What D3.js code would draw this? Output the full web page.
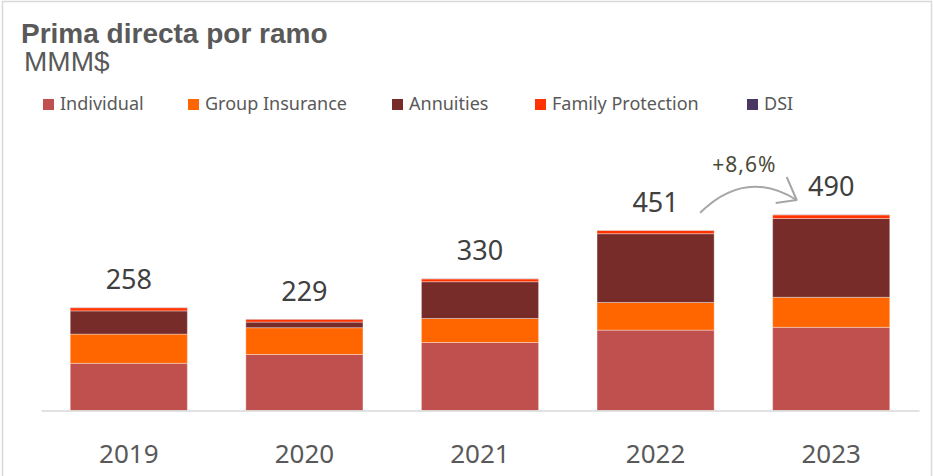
<!DOCTYPE html>
<html>
<head>
<meta charset="utf-8">
<script src="https://cdn.jsdelivr.net/npm/d3@7"></script>
<style>
  html, body { margin: 0; padding: 0; background: #fff; }
  svg { display: block; }
</style>
</head>
<body>
<svg id="chart" width="933" height="476"></svg>
<script>
// ---- data ----
const years = ["2019", "2020", "2021", "2022", "2023"];
const seriesNames = ["Individual", "Group Insurance", "Annuities", "Family Protection", "DSI"];
const individual = [118, 140, 170, 201, 208];
const groupInsurance = [73, 67, 60, 69, 75];
const annuities = [58, 14, 92, 172, 197];
const familyProtection = [8, 7, 7, 8, 9];
const dsi = [0.5, 0.5, 0.5, 0.5, 0.5];
const totals = ["258", "229", "330", "451", "490"];
const growthLabel = "+8,6%";
const colors = ["#C0504D", "#FF6600", "#772C2A", "#FF3300", "#4B3862"];

// ---- setup ----
const svg = d3.select("#chart");
const W = 933, H = 476;

svg.append("rect").attr("x", 2.5).attr("y", 1.5).attr("width", 929).attr("height", H + 5)
  .attr("fill", "#fff").attr("stroke", "#d9d9d9").attr("stroke-width", 1.5);

const rows = years.map((y, i) => ({
  year: y,
  "Individual": individual[i],
  "Group Insurance": groupInsurance[i],
  "Annuities": annuities[i],
  "Family Protection": familyProtection[i],
  "DSI": dsi[i]
}));

const x = d3.scaleBand().domain(years).range([41, 919]).paddingInner(0.333).paddingOuter(0.1665);
const y = d3.scaleLinear().domain([0, 500]).range([410.5, 210.5]);
const color = d3.scaleOrdinal().domain(seriesNames).range(colors);

const stack = d3.stack().keys(seriesNames);
const stacked = stack(rows);

// title
svg.append("text").attr("x", 21).attr("y", 43)
  .attr("font-family", "'Liberation Sans', Arial, sans-serif")
  .attr("font-weight", "bold").attr("font-size", 28).attr("fill", "#595959")
  .text("Prima directa por ramo");
svg.append("text").attr("x", 24).attr("y", 70.5)
  .attr("font-family", "'Liberation Sans', Arial, sans-serif")
  .attr("font-size", 28).attr("fill", "#595959")
  .text("MMM$");

// legend
const legendX = [43, 188, 392, 535, 747];
const lg = svg.append("g");
seriesNames.forEach((s, i) => {
  lg.append("rect").attr("x", legendX[i]).attr("y", 99).attr("width", 11).attr("height", 11)
    .attr("fill", color(s));
  lg.append("text").attr("x", legendX[i] + 17).attr("y", 110)
    .attr("font-family", "'Noto Sans', 'Open Sans', sans-serif")
    .attr("font-size", 18).attr("fill", "#595959").text(s);
});

// bars
svg.append("g").selectAll("g").data(stacked).join("g")
  .attr("fill", d => color(d.key))
  .selectAll("rect").data(d => d).join("rect")
  .attr("x", d => x(d.data.year))
  .attr("y", d => y(d[1]))
  .attr("width", x.bandwidth())
  .attr("height", d => Math.max(0, y(d[0]) - y(d[1])))
  .attr("stroke", "rgba(255,255,255,0.35)").attr("stroke-width", 1);

// axis
const xAxis = svg.append("g").attr("transform", "translate(0,410.5)")
  .call(d3.axisBottom(x).tickSize(0).tickPadding(34));
xAxis.select(".domain").attr("stroke", "#d9d9d9").attr("stroke-width", 1.5);
xAxis.selectAll("text")
  .attr("font-family", "'Noto Sans', 'Open Sans', sans-serif")
  .attr("font-size", 26).attr("fill", "#595959");

// totals
const totalVals = years.map((yr, i) => individual[i] + groupInsurance[i] + annuities[i] + familyProtection[i] + dsi[i]);
svg.append("g").selectAll("text").data(years).join("text")
  .attr("x", d => x(d) + x.bandwidth() / 2)
  .attr("y", (d, i) => y(totalVals[i]) - 18.5)
  .attr("text-anchor", "middle")
  .attr("font-family", "'Noto Sans', 'Open Sans', sans-serif")
  .attr("font-size", 27).attr("fill", "#404040")
  .text((d, i) => totals[i]);

// growth arrow between 2022 and 2023
const ax0 = x("2022") + x.bandwidth() / 2 + 44.5;
const ay0 = y(totalVals[3]) + 1 - 18.5;
const ax1 = x("2023") + x.bandwidth() / 2 - 34.5;
const ay1 = 200;
svg.append("path")
  .attr("d", `M${ax0},${ay0} Q${(ax0 + ax1) / 2 - 3},168 ${ax1},${ay1}`)
  .attr("fill", "none").attr("stroke", "#a6a6a6").attr("stroke-width", 2);
svg.append("path")
  .attr("d", `M${ax1 - 10},${ay1 - 23} L${ax1},${ay1} L${ax1 - 21},${ay1 + 3}`)
  .attr("fill", "none").attr("stroke", "#a6a6a6").attr("stroke-width", 2)
  .attr("stroke-linejoin", "round");
svg.append("text").attr("x", (ax0 + ax1) / 2 - 4).attr("y", 171.5)
  .attr("text-anchor", "middle")
  .attr("font-family", "'Noto Sans', 'Open Sans', sans-serif")
  .attr("font-size", 21).attr("letter-spacing", 1).attr("fill", "#4a4a38")
  .text(growthLabel);
</script>
</body>
</html>
